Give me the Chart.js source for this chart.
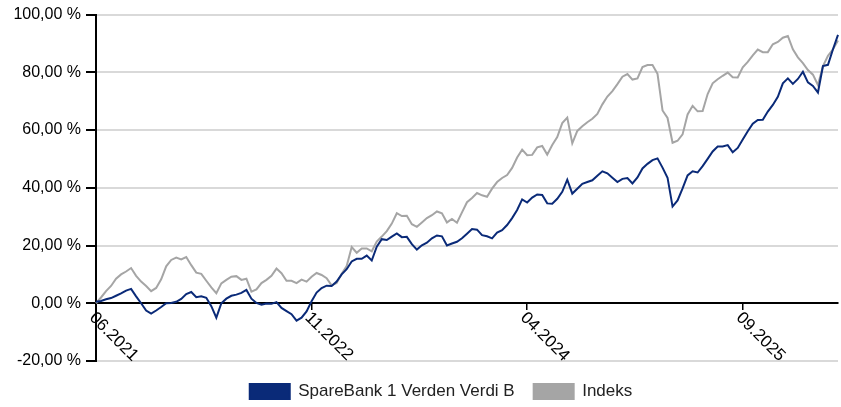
<!DOCTYPE html>
<html>
<head>
<meta charset="utf-8">
<script src="https://cdn.jsdelivr.net/npm/chart.js@4.4.1/dist/chart.umd.min.js"></script>
<style>
  html, body { margin: 0; padding: 0; background: #fff; }
  canvas { display: block; }
</style>
</head>
<body>
<canvas id="canvas" width="841" height="407"></canvas>
<script>
// Cumulative return in %, one value every ~12 days from 06.2021
const fundValues = [
  0.5, 0.8, 1.4, 1.8, 2.6, 3.4, 4.4, 5.0, 2.4, 0.0,
  -2.5, -3.6, -2.5, -1.3, 0.0, 0.1, 0.5, 1.5, 3.2, 3.9,
  2.1, 2.4, 1.9, -1.0, -5.0, 0.0, 1.6, 2.6, 3.0, 3.6,
  4.6, 1.6, 0.1, -0.5, -0.1, -0.2, 0.4, -1.6, -2.7, -3.8,
  -6.0, -5.0, -2.8, 0.7, 3.7, 5.3, 6.1, 6.0, 7.5, 10.0,
  11.8, 14.5, 15.4, 15.4, 16.5, 14.8, 19.6, 22.2, 21.9, 23.1,
  24.2, 22.9, 23.0, 20.5, 18.6, 20.1, 21.0, 22.5, 23.5, 23.2,
  20.0, 20.7, 21.3, 22.5, 24.1, 25.7, 25.5, 23.6, 23.2, 22.5,
  24.5, 25.3, 27.1, 29.5, 32.3, 36.0, 34.9, 36.6, 37.7, 37.5,
  34.6, 34.5, 36.2, 38.6, 42.8, 38.0, 39.7, 41.4, 42.0, 42.6,
  44.2, 45.7, 45.0, 43.5, 42.0, 43.1, 43.4, 41.5, 43.6, 46.7,
  48.3, 49.6, 50.2, 47.0, 43.5, 33.5, 35.6, 39.8, 44.3, 45.7,
  45.3, 47.5, 50.0, 52.6, 54.3, 54.3, 54.8, 52.3, 53.8, 56.7,
  59.6, 62.2, 63.5, 63.6, 66.4, 68.7, 71.5, 76.2, 77.9, 76.0,
  77.7, 80.2, 76.5, 75.3, 73.0, 82.2, 82.6, 88.0, 93.0
];
const indexValues = [
  0.0, 2.0, 4.2, 6.0, 8.5, 10.0, 11.0, 12.2, 9.5, 7.5,
  6.0, 4.2, 5.3, 8.3, 12.8, 15.0, 15.8, 15.2, 16.0, 13.2,
  10.6, 10.2, 7.8, 5.5, 3.5, 6.9, 8.1, 9.2, 9.4, 8.1,
  8.5, 4.0, 4.8, 7.0, 8.1, 9.5, 12.0, 10.4, 7.8, 7.8,
  7.0, 8.2, 7.5, 9.2, 10.5, 9.8, 8.7, 6.2, 7.0, 10.2,
  12.9, 19.5, 17.5, 19.0, 19.0, 18.0, 21.4, 23.1, 25.0, 27.6,
  31.2, 30.2, 30.3, 27.4, 26.5, 28.0, 29.5, 30.5, 31.8, 31.2,
  28.0, 29.2, 27.9, 31.5, 35.0, 36.5, 38.2, 37.4, 36.9, 39.7,
  42.0, 43.4, 44.4, 46.9, 50.5, 53.2, 51.3, 51.4, 54.0, 54.5,
  51.5, 54.8, 57.6, 62.4, 64.3, 55.4, 59.7, 61.3, 62.7, 63.9,
  65.6, 68.9, 71.6, 73.5, 75.9, 78.5, 79.4, 77.5, 77.9, 81.8,
  82.5, 82.5, 79.5, 66.8, 64.2, 55.6, 56.3, 58.5, 65.4, 68.4,
  66.5, 66.6, 72.5, 76.2, 77.6, 78.8, 79.9, 78.3, 78.2, 81.7,
  83.6, 85.9, 87.9, 87.0, 87.0, 89.7, 90.5, 92.0, 92.6, 88.0,
  85.2, 83.2, 80.8, 79.2, 75.6, 82.2, 85.7, 88.0, 91.0
];
const seriesNames = ['SpareBank 1 Verden Verdi B', 'Indeks'];
const tickLabels = ['06.2021', '11.2022', '04.2024', '09.2025'];
const tickIndex = [0, 43, 86, 129];
const yTicks = [-20, 0, 20, 40, 60, 80, 100];

const labels = fundValues.map((v, i) => i);

// x labels sit on the zero line, turned 45 degrees clockwise
const slantedLabels = {
  id: 'slantedLabels',
  afterLayout(chart) {
    // legend sits a bit right of centre and lower in the original
    const lg = chart.legend;
    lg.left += 22;
    lg.right += 22;
    lg.top += 3;
    lg.bottom += 3;
  },
  afterDraw(chart) {
    const ctx = chart.ctx;
    const xs = chart.scales.x, ys = chart.scales.y;
    const y0 = ys.getPixelForValue(0);
    ctx.save();
    ctx.font = '17px "Liberation Sans"';
    ctx.fillStyle = '#000';
    ctx.textAlign = 'left';
    ctx.textBaseline = 'middle';
    tickIndex.forEach((v, k) => {
      ctx.save();
      ctx.translate(xs.getPixelForValue(v) - 4, y0 + 12);
      ctx.rotate(Math.PI / 4);
      ctx.fillText(tickLabels[k], 0, 0);
      ctx.restore();
    });
    ctx.restore();
  }
};

new Chart(document.getElementById('canvas').getContext('2d'), {
  type: 'line',
  data: {
    labels: labels,
    datasets: [{
      label: seriesNames[0],
      data: fundValues,
      borderColor: '#0a2a78',
      backgroundColor: '#0a2a78',
      borderWidth: 2,
      pointRadius: 0,
      tension: 0
    }, {
      label: seriesNames[1],
      data: indexValues,
      borderColor: '#a5a5a5',
      backgroundColor: '#a5a5a5',
      borderWidth: 2,
      pointRadius: 0,
      tension: 0
    }]
  },
  options: {
    responsive: false,
    animation: false,
    layout: { padding: { left: 0, right: 3, top: 14, bottom: 0 } },
    plugins: {
      legend: {
        position: 'bottom',
        labels: {
          boxWidth: 40,
          boxHeight: 15,
          padding: 19,
          color: '#222',
          font: { family: 'Liberation Sans', size: 17 }
        }
      },
      tooltip: { enabled: false }
    },
    scales: {
      x: {
        type: 'category',
        position: { y: 0 },
        afterBuildTicks: s => { s.ticks = tickIndex.map(v => ({ value: v })); },
        ticks: { display: false },
        grid: { drawOnChartArea: false, drawTicks: true, tickLength: 6, color: '#000', lineWidth: 1.5 },
        border: { color: '#000', width: 2 }
      },
      y: {
        min: -20,
        max: 100,
        afterFit: s => { s.width = 96; },
        afterBuildTicks: s => { s.ticks = yTicks.map(v => ({ value: v })); },
        ticks: {
          padding: 5,
          color: '#000',
          font: { family: 'Liberation Sans', size: 16 },
          callback: v => v.toFixed(2).replace('.', ',') + ' %'
        },
        grid: { color: '#d9d9d9', lineWidth: 2, tickLength: 10, tickColor: '#000' },
        border: { color: '#000', width: 2 }
      }
    }
  },
  plugins: [slantedLabels]
});
</script>
</body>
</html>
